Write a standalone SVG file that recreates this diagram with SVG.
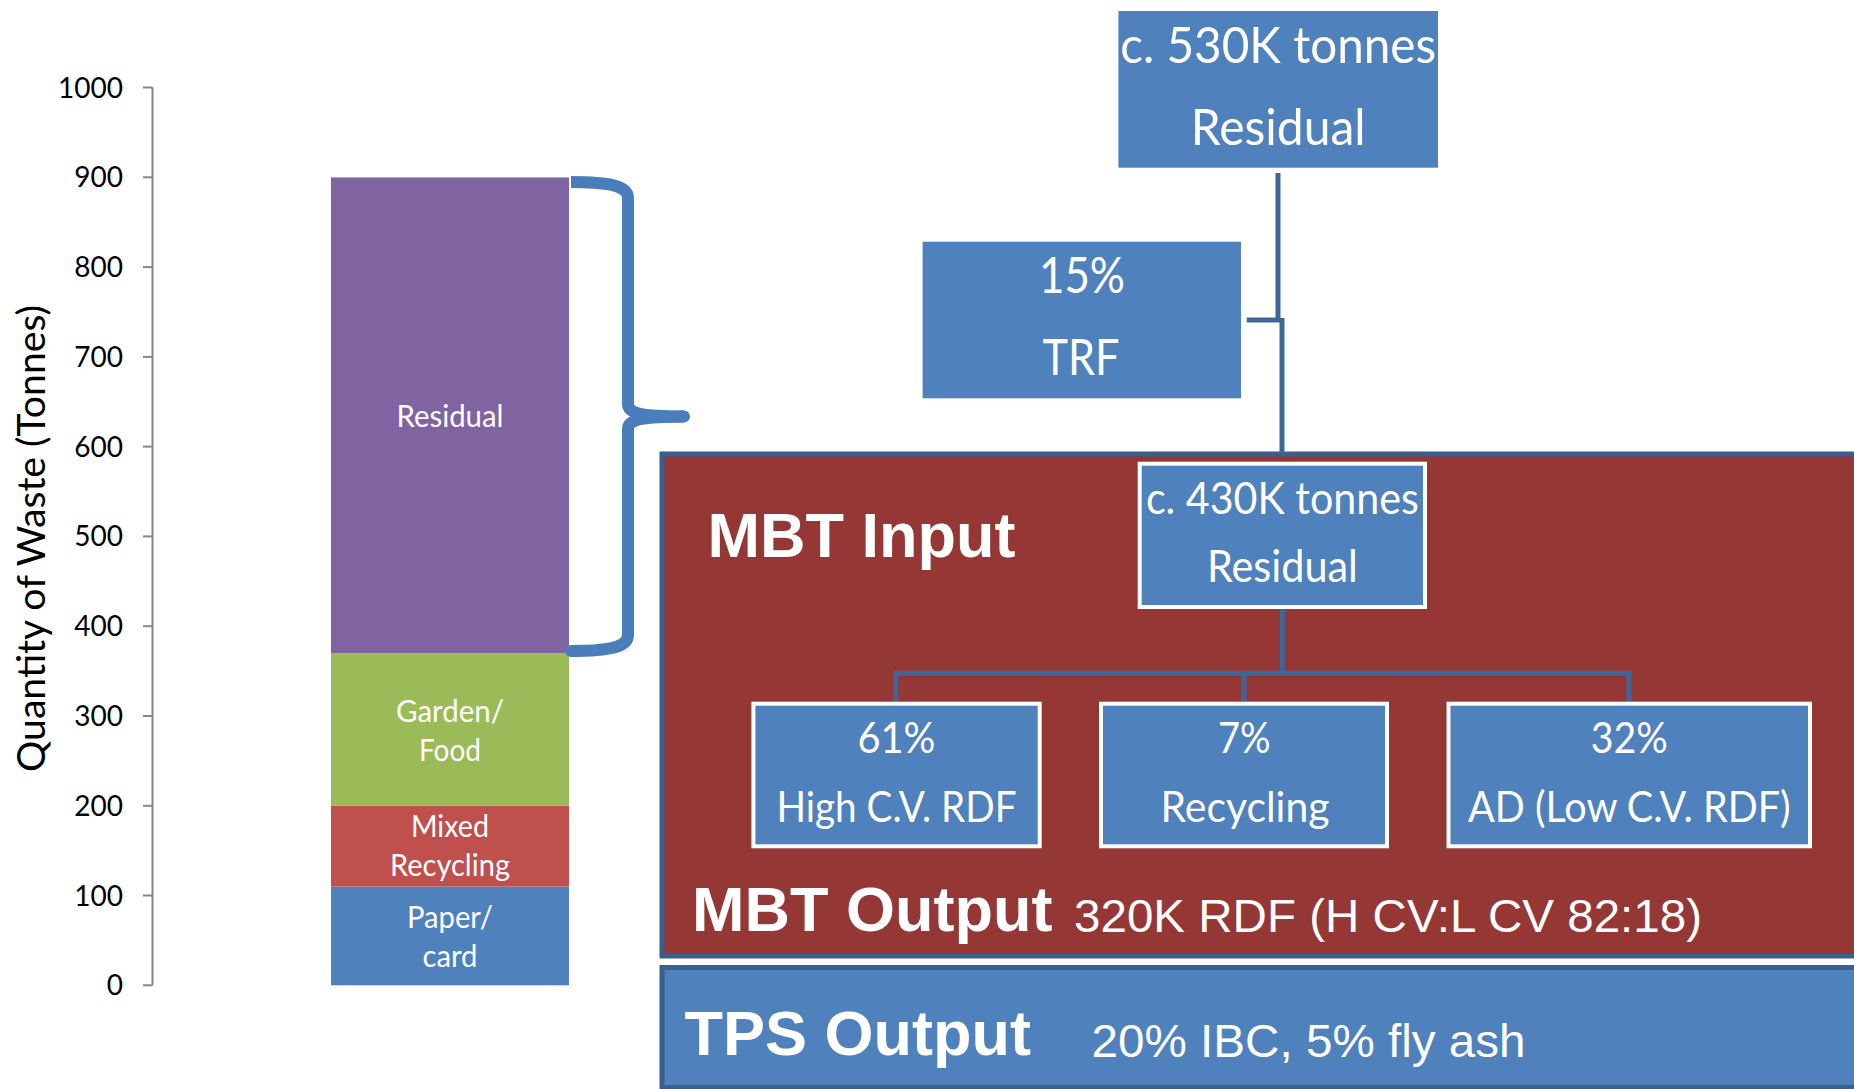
<svg xmlns="http://www.w3.org/2000/svg" width="1854" height="1089" viewBox="0 0 1854 1089">
<style>
.cal{font-family:Lato,"Open Sans","Noto Sans",sans-serif;fill:#fff;text-anchor:middle}
.ax{font-family:Lato,"Open Sans",sans-serif;fill:#000;font-size:28px;text-anchor:end}
.arb{font-family:"Liberation Sans",Arial,sans-serif;font-weight:bold;fill:#fff}
.ar{font-family:"Liberation Sans",Arial,sans-serif;fill:#fff}
.tick{stroke:#868686;stroke-width:2}
.box{fill:#4F81BD}
.wbox{fill:#4F81BD;stroke:#fff;stroke-width:4}
.conn{stroke:#3E6797;stroke-width:5;fill:none}
</style>
<rect width="1854" height="1089" fill="#fff"/>

<g id="axis">
<line class="tick" x1="152.5" y1="87.5" x2="152.5" y2="985.3"/>
<g class="tick">
<line x1="143" y1="87.5" x2="152.5" y2="87.5"/>
<line x1="143" y1="177.3" x2="152.5" y2="177.3"/>
<line x1="143" y1="267.1" x2="152.5" y2="267.1"/>
<line x1="143" y1="356.9" x2="152.5" y2="356.9"/>
<line x1="143" y1="446.6" x2="152.5" y2="446.6"/>
<line x1="143" y1="536.4" x2="152.5" y2="536.4"/>
<line x1="143" y1="626.2" x2="152.5" y2="626.2"/>
<line x1="143" y1="716" x2="152.5" y2="716"/>
<line x1="143" y1="805.8" x2="152.5" y2="805.8"/>
<line x1="143" y1="895.5" x2="152.5" y2="895.5"/>
<line x1="143" y1="985.3" x2="152.5" y2="985.3"/>
</g>
<text class="ax" x="123" y="97.5">1000</text>
<text class="ax" x="123" y="187.3">900</text>
<text class="ax" x="123" y="277">800</text>
<text class="ax" x="123" y="367">700</text>
<text class="ax" x="123" y="456.6">600</text>
<text class="ax" x="123" y="546.4">500</text>
<text class="ax" x="123" y="636.2">400</text>
<text class="ax" x="123" y="726">300</text>
<text class="ax" x="123" y="815.8">200</text>
<text class="ax" x="123" y="905.5">100</text>
<text class="ax" x="123" y="995.3">0</text>
<text x="0" y="0" transform="translate(45,538.5) rotate(-90)" font-family="Lato,'Open Sans',sans-serif" font-size="39" fill="#000" text-anchor="middle" textLength="467" lengthAdjust="spacingAndGlyphs">Quantity of Waste (Tonnes)</text>
</g>

<g id="bar-paper">
<rect x="331" y="886.6" width="238" height="98.7" fill="#4F81BD"/>
<text class="cal" x="450" y="927.5" font-size="30" textLength="86" lengthAdjust="spacingAndGlyphs">Paper/</text>
<text class="cal" x="450" y="966.8" font-size="30" textLength="55" lengthAdjust="spacingAndGlyphs">card</text>
</g>
<g id="bar-mixed">
<rect x="331" y="805.8" width="238" height="80.8" fill="#C0504D"/>
<text class="cal" x="450" y="837" font-size="30" textLength="78" lengthAdjust="spacingAndGlyphs">Mixed</text>
<text class="cal" x="450" y="876" font-size="30" textLength="120" lengthAdjust="spacingAndGlyphs">Recycling</text>
</g>
<g id="bar-garden">
<rect x="331" y="653.2" width="238" height="152.6" fill="#9BBB59"/>
<text class="cal" x="450" y="722" font-size="30" textLength="108" lengthAdjust="spacingAndGlyphs">Garden/</text>
<text class="cal" x="450" y="761" font-size="30" textLength="62" lengthAdjust="spacingAndGlyphs">Food</text>
</g>
<g id="bar-residual">
<rect x="331" y="177.4" width="238" height="475.8" fill="#8064A2"/>
<text class="cal" x="450" y="426.7" font-size="30" textLength="107" lengthAdjust="spacingAndGlyphs">Residual</text>
</g>

<g id="brace" fill="none" stroke="#4A7EBB" stroke-width="12" stroke-linejoin="round">
<path d="M571,182 C610,182 628,186 628,198 L628,404 C628,413 640,416.5 684,416.5" stroke-linecap="butt"/>
<path d="M571,651 C610,651 628,647 628,635 L628,429 C628,420 640,416.5 684,416.5" stroke-linecap="round"/>
</g>

<g id="mbt-panel">
<rect x="662" y="454" width="1300" height="502" fill="#953735" stroke="#3A5F8C" stroke-width="5"/>
<text class="arb" x="707.6" y="556.7" font-size="63">MBT Input</text>
<text class="arb" x="692" y="930.7" font-size="63">MBT Output</text>
<text class="ar" x="1074" y="931.7" font-size="46" textLength="628" lengthAdjust="spacingAndGlyphs">320K RDF (H CV:L CV 82:18)</text>
</g>

<g id="tps-panel">
<rect x="662" y="967.5" width="1300" height="120" fill="#4F81BD" stroke="#3A5F8C" stroke-width="5"/>
<text class="arb" x="684.6" y="1055" font-size="63">TPS Output</text>
<text class="ar" x="1091.6" y="1056.7" font-size="47" textLength="434" lengthAdjust="spacingAndGlyphs">20% IBC, 5% fly ash</text>
</g>

<g id="connectors">
<line class="conn" x1="1278" y1="173" x2="1278" y2="322" stroke="#41699C"/>
<line class="conn" x1="1246.7" y1="320" x2="1280" y2="320" stroke="#41699C"/>
<line class="conn" x1="1282" y1="318" x2="1282" y2="453" stroke="#4A7EBB"/>
<path class="conn" d="M1282.4,609 V673.3 M895.8,701.7 V673.3 H1629 V701.7 M1244,673.3 V701.7"/>
</g>

<g id="node-530k">
<rect class="box" x="1118.4" y="11" width="319.6" height="156.7"/>
<text class="cal" x="1278.2" y="63.3" font-size="50" textLength="316" lengthAdjust="spacingAndGlyphs">c. 530K tonnes</text>
<text class="cal" x="1278.2" y="145" font-size="50" textLength="175" lengthAdjust="spacingAndGlyphs">Residual</text>
</g>

<g id="node-trf">
<rect class="box" x="922.6" y="241.7" width="318.4" height="156.6"/>
<text class="cal" x="1082" y="293.3" font-size="50" textLength="86" lengthAdjust="spacingAndGlyphs">15%</text>
<text class="cal" x="1081" y="375" font-size="50" textLength="77" lengthAdjust="spacingAndGlyphs">TRF</text>
</g>

<g id="node-430k">
<rect class="wbox" x="1139.7" y="463.7" width="285.3" height="143.3"/>
<text class="cal" x="1282.4" y="514" font-size="45" textLength="273" lengthAdjust="spacingAndGlyphs">c. 430K tonnes</text>
<text class="cal" x="1282.4" y="581.7" font-size="45" textLength="151" lengthAdjust="spacingAndGlyphs">Residual</text>
</g>

<g id="node-highcv">
<rect class="wbox" x="753.4" y="703.7" width="286.3" height="142.6"/>
<text class="cal" x="896.5" y="753.3" font-size="43" textLength="78" lengthAdjust="spacingAndGlyphs">61%</text>
<text class="cal" x="896.5" y="821.7" font-size="43" textLength="240" lengthAdjust="spacingAndGlyphs">High C.V. RDF</text>
</g>

<g id="node-recycling">
<rect class="wbox" x="1101" y="703.7" width="286" height="142.6"/>
<text class="cal" x="1244.3" y="753.3" font-size="43" textLength="52.6" lengthAdjust="spacingAndGlyphs">7%</text>
<text class="cal" x="1245" y="821.7" font-size="43" textLength="169" lengthAdjust="spacingAndGlyphs">Recycling</text>
</g>

<g id="node-ad">
<rect class="wbox" x="1448.5" y="703.7" width="361.5" height="142.6"/>
<text class="cal" x="1629.3" y="753.3" font-size="43" textLength="77" lengthAdjust="spacingAndGlyphs">32%</text>
<text class="cal" x="1629.3" y="821.7" font-size="43" textLength="322.6" lengthAdjust="spacingAndGlyphs">AD (Low C.V. RDF)</text>
</g>
</svg>
